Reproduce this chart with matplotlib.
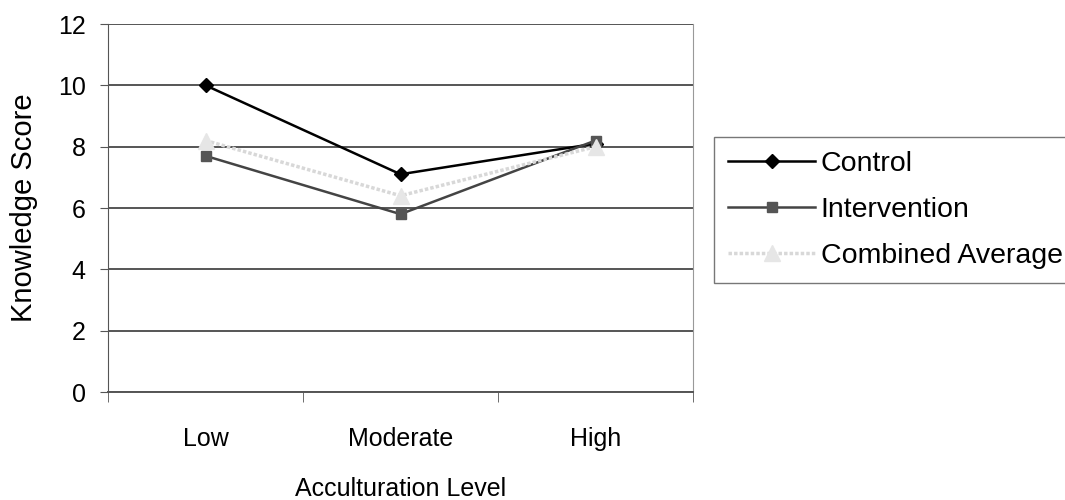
import matplotlib.pyplot as plt
from matplotlib.ticker import FixedLocator

plt.rcParams['font.family'] = ['Liberation Sans', 'DejaVu Sans']

levels = ['Low', 'Moderate', 'High']
control = [10.0, 7.1, 8.1]
intervention = [7.7, 5.8, 8.2]
combined = [8.2, 6.4, 8.0]

fig = plt.figure(figsize=(10.65, 5.0), dpi=100)
ax = fig.add_axes([108 / 1065, 1 - 392 / 500, 585 / 1065, 368 / 500])

x = range(len(levels))
ax.plot(x, control, color='black', marker='D', markersize=7, lw=1.8, label='Control')
ax.plot(x, intervention, color='#444444', marker='s', markersize=7, lw=1.8,
        markerfacecolor='#555555', markeredgecolor='#555555', label='Intervention')
ax.plot(x, combined, color='#d8d8d8', marker='^', markersize=11, lw=2.5, ls=(0, (1, 0.6)),
        markerfacecolor='#e6e6e6', markeredgecolor='#e6e6e6', label='Combined Average')

ax.set_xlim(-0.5, 2.5)
ax.set_ylim(0, 12)
ax.set_yticks(range(0, 13, 2))
ax.set_xticks(list(x))
ax.set_xticklabels(levels)
ax.xaxis.set_minor_locator(FixedLocator([-0.5, 0.5, 1.5, 2.5]))
ax.tick_params(axis='x', which='major', length=0, pad=25, labelsize=18)
ax.tick_params(axis='x', which='minor', length=7, direction='out', color='#555555')
ax.tick_params(axis='y', length=6, direction='out', labelsize=18, pad=10, color='#555555')
ax.yaxis.grid(True, color='#555555', lw=1.4)
ax.set_axisbelow(True)

ax.spines['top'].set_visible(False)
ax.spines['right'].set_color('#999999')
ax.spines['left'].set_color('#555555')
ax.spines['bottom'].set_color('#555555')
ax.spines['bottom'].set_linewidth(1.4)

ax.set_ylabel('Knowledge Score', fontsize=21, labelpad=14)
ax.set_xlabel('Acculturation Level', fontsize=18, labelpad=19)

leg = fig.legend(loc='upper left', bbox_to_anchor=(714 / 1065, 1 - 137 / 500),
                 fontsize=20.5, frameon=True, fancybox=False, edgecolor='#555555',
                 handlelength=3.05, labelspacing=0.7, borderpad=0.5, handletextpad=0.2,
                 borderaxespad=0)
leg.get_frame().set_linewidth(1.0)

fig.savefig('out.png', dpi=100)
